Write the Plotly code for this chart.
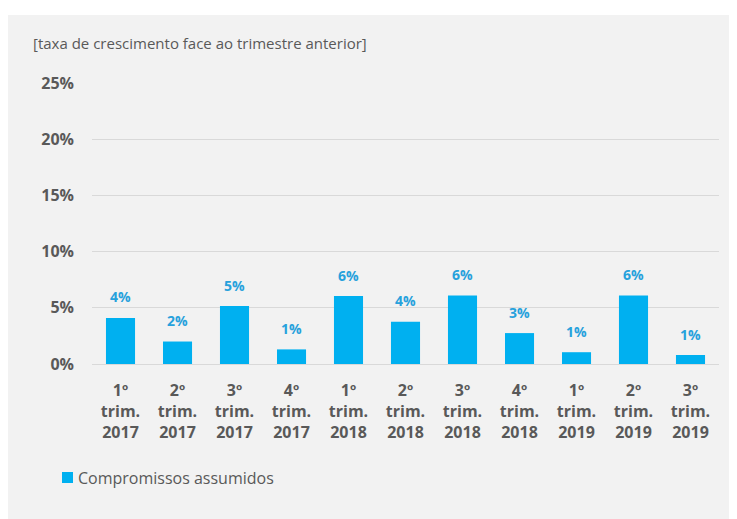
import plotly.graph_objects as go

categories = ["1º<br>trim.<br>2017", "2º<br>trim.<br>2017", "3º<br>trim.<br>2017", "4º<br>trim.<br>2017",
              "1º<br>trim.<br>2018", "2º<br>trim.<br>2018", "3º<br>trim.<br>2018", "4º<br>trim.<br>2018",
              "1º<br>trim.<br>2019", "2º<br>trim.<br>2019", "3º<br>trim.<br>2019"]
values = [4.1, 2.0, 5.15, 1.3, 6.05, 3.75, 6.1, 2.75, 1.05, 6.1, 0.8]
value_labels = ["4%", "2%", "5%", "1%", "6%", "4%", "6%", "3%", "1%", "6%", "1%"]
y_ticks = [0, 5, 10, 15, 20, 25]
y_tick_labels = ["0%", "5%", "10%", "15%", "20%", "25%"]
series_name = "Compromissos assumidos"
title_text = "[taxa de crescimento face ao trimestre anterior]"

OFF = 8  # default page body margin
W, H = 737 - OFF, 519 - OFF
# targets in window pixels
plot_left, plot_right, plot_top, plot_bottom = 92, 719, 83, 364
ml, mr = plot_left - OFF, 737 - plot_right
mt, mb = plot_top - OFF, 519 - plot_bottom
pw, ph = W - ml - mr, H - mt - mb

def px_x(x):
    return (x - plot_left) / pw

def px_y(y):
    return (plot_bottom - y) / ph

FONT = "Open Sans"
GRAY = "#595959"
BAR = "#00b0f0"

fig = go.Figure()
fig.add_trace(go.Bar(
    x=categories, y=values, name=series_name,
    marker=dict(color=BAR, line=dict(width=0)),
    showlegend=False,
))

for c, v, t in zip(categories, values, value_labels):
    fig.add_annotation(x=c, y=v, text="<b>%s</b>" % t, showarrow=False,
                       yshift=21, font=dict(family=FONT, size=14, color="#27a1dc"))

fig.add_annotation(xref="paper", yref="paper", x=px_x(31), y=px_y(43),
                   xanchor="left", yanchor="middle", text=title_text, showarrow=False,
                   font=dict(family=FONT, size=15, color=GRAY))

# legend (drawn)
fig.add_shape(type="rect", xref="paper", yref="paper",
              x0=px_x(62), x1=px_x(73), y0=px_y(483), y1=px_y(472),
              fillcolor=BAR, line=dict(width=0))
fig.add_annotation(xref="paper", yref="paper", x=px_x(76), y=px_y(477.5),
                   xanchor="left", yanchor="middle", text=series_name, showarrow=False,
                   font=dict(family=FONT, size=16, color=GRAY))

fig.add_shape(type="rect", xref="paper", yref="paper", layer="below",
              x0=px_x(7), x1=px_x(745), y0=px_y(525), y1=px_y(15),
              fillcolor="#f2f2f2", line=dict(width=0))

fig.update_layout(
    width=W, height=H,
    margin=dict(l=ml, r=mr, t=mt, b=mb, pad=0),
    paper_bgcolor="white", plot_bgcolor="rgba(0,0,0,0)",
    bargap=0.49,
    showlegend=False,
    font=dict(family=FONT, color=GRAY),
    xaxis=dict(showgrid=False, showline=False, ticks="", zeroline=False,
               tickfont=dict(family=FONT, size=16, color=GRAY, weight="bold"),
               ticklabelstandoff=15),
    yaxis=dict(range=[0, 25], tickvals=y_ticks, ticktext=y_tick_labels,
               showgrid=True, gridcolor="#d9d9d9", gridwidth=1,
               zeroline=True, zerolinecolor="#d9d9d9", zerolinewidth=1,
               showline=False, ticks="",
               tickfont=dict(family=FONT, size=16, color=GRAY, weight="bold"),
               ticklabelstandoff=17),
)

fig.write_html("out.html")
